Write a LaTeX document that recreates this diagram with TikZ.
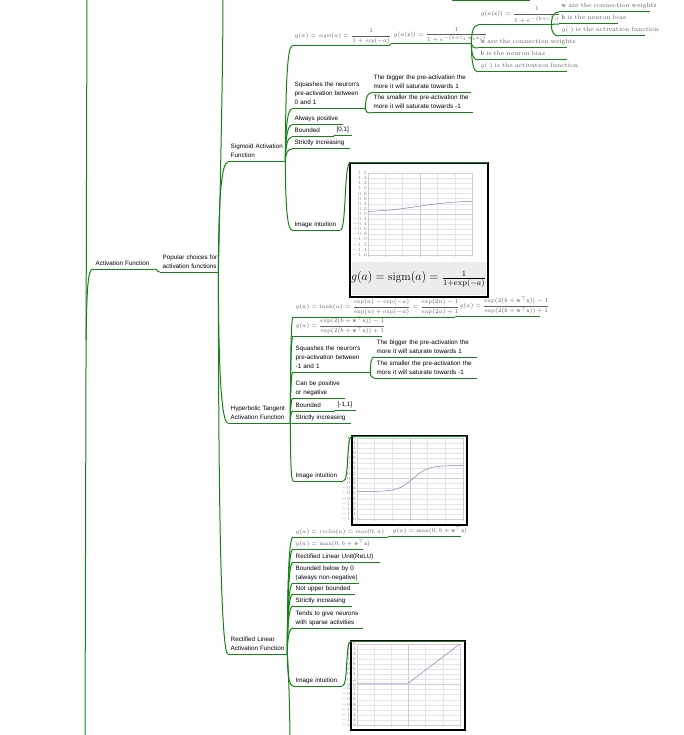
\documentclass[tikz,border=0pt]{standalone}
\usepackage{amsmath}
\usepackage{fontspec}
\newfontfamily\mapsans{Liberation Sans}
\usetikzlibrary{calc}

\definecolor{branch}{RGB}{22,130,22}
\definecolor{formula}{RGB}{95,95,95}
\definecolor{gridline}{RGB}{228,228,236}
\definecolor{axisline}{RGB}{205,205,215}
\definecolor{plotline}{RGB}{135,125,175}
\definecolor{band}{RGB}{236,236,236}

% one unbreakable line of a topic, with a fixed minimum depth
\newcommand\one[1]{\mbox{\rule[-1.6pt]{0pt}{1pt}#1}}

\tikzset{
  uline/.style={draw=branch, line width=1pt},
  link/.style={draw=branch, line width=1pt},
  topic/.style={anchor=south west, inner xsep=2.5pt, inner ysep=2.2pt, align=left,
    font=\mapsans\fontsize{6.3}{9}\selectfont,
    append after command={(\tikzlastnode.south west) edge[uline] (\tikzlastnode.south east)}},
  mathtopic/.style={topic, font=\fontsize{5.6}{6.5}\selectfont, text=formula, inner ysep=1.5pt},
  note/.style={topic, font=\fontsize{6.3}{8}\selectfont, text=formula},
  picbox/.style={draw=black, line width=1.1pt, anchor=north west, inner sep=0pt, fill=white},
  ticklab/.style={font=\fontsize{2.2}{2.5}\selectfont, text=black!45, inner sep=0.3pt},
}

% curved connector from a parent's junction to a child's underline
\newcommand\mmlink[2]{\draw[link] (#1) .. controls ($(#1)!0.67!(#1|-#2)$) and ($(#2)!0.67!(#1|-#2)$) .. (#2);}
% short S-shaped connector between neighbouring underlines
\newcommand\slink[3][4]{\draw[link] (#2) .. controls +(#1,0) and +(-#1,0) .. (#3);}

% grid of a small function plot: x0, y0, x1, y1
\newcommand\plotgrid[4]{%
  \foreach \i in {0,...,16}
    \draw[gridline, line width=0.35pt] (#1,{#2+(#4-#2)*\i/16}) -- (#3,{#2+(#4-#2)*\i/16});
  \foreach \i in {0,...,6}
    \draw[gridline, line width=0.35pt] ({#1+(#3-#1)*\i/6},#2) -- ({#1+(#3-#1)*\i/6},#4);
  \draw[axisline, line width=0.4pt] (#1,{(#2+#4)/2}) -- (#3,{(#2+#4)/2});
  \draw[axisline, line width=0.4pt] ({(#1+#3)/2},#2) -- ({(#1+#3)/2},#4);
  \draw[axisline, line width=0.4pt] (#1,#2) rectangle (#3,#4);
  \foreach \i in {0,...,16}{
    \pgfmathsetmacro\v{1.6-0.2*\i}
    \node[ticklab, anchor=east] at (#1-0.5,{#2+(#4-#2)*\i/16}) {\pgfmathprintnumber[fixed,precision=1,fixed zerofill]{\v}};}
  \foreach \i in {0,...,6}{
    \pgfmathtruncatemacro\v{-6+2*\i}
    \node[ticklab, anchor=north] at ({#1+(#3-#1)*\i/6},#4+0.8) {\v};}
}

\begin{document}
\begin{tikzpicture}[x=1pt, y=-1pt]
\useasboundingbox (0,0) rectangle (684,735);
\clip (0,0) rectangle (684,735);

% ---------- main topic ----------
\coordinate (roottop) at (87,-10);
\coordinate (rootbot) at (85,745);
\draw[link] (roottop) -- (rootbot);
\node[topic, text width=56] (af) at (93,269) {\one{Activation Function}};
\coordinate (rootj) at (86,340);
\draw[link] (rootj) .. controls (87,290) and (87.5,269) .. (af.south west);

\node[topic, text width=53] (pc) at (160,272) {\one{Popular choices for}\\\one{activation functions}};
\slink{af.south east}{pc.south west}

\node[topic, text width=52] (sig) at (228,162) {\one{Sigmoid Activation}\\\one{Function}};
\node[topic, text width=57] (tnh) at (228,423) {\one{Hyperbolic Tangent}\\\one{Activation Function}};
\node[topic, text width=54] (rel) at (228,654) {\one{Rectified Linear}\\\one{Activation Function}};
\mmlink{pc.south east}{sig.south west}
\mmlink{pc.south east}{tnh.south west}
\mmlink{pc.south east}{rel.south west}
\coordinate (popup) at (223,-8);
\draw[link] (pc.south east) .. controls (221,150) and (223,60) .. (popup);

% ---------- sigmoid ----------
\node[mathtopic, text width=91] (s1) at (292,46)
  {\one{$g(a)=\mathit{sigm}(a)=\dfrac{1}{1+\mathit{exp}(-a)}$}};
\node[mathtopic, text width=75] (s1a) at (391,44)
  {\one{$g(a(\mathbf{x}))=\dfrac{1}{1+e^{\scriptscriptstyle -(b+\sum\nolimits_i w_i x_i)}}$}};
\slink[2]{s1.south east}{s1a.south west}
\node[mathtopic, text width=68] (s1b) at (478,25)
  {\one{$g(a(\mathbf{x}))=\dfrac{1}{1+e^{\scriptscriptstyle -(b+\mathbf{w}^{\top}\mathbf{x})}}$}};
\node[note, text width=86] (s1b1) at (559,12) {\one{$\mathbf{w}$ are the connection weights}};
\node[note, text width=54] (s1b2) at (559,24) {\one{$\mathbf{b}$ is the neuron bias}};
\node[note, text width=81] (s1b3) at (559,36) {\one{$g(\cdot)$ is the activation function}};
\node[note, text width=84] (s1c) at (478,48) {\one{$\mathbf{w}$ are the connection weights}};
\node[note, text width=84] (s1d) at (478,60) {\one{$\mathbf{b}$ is the neuron bias}};
\node[note, text width=84] (s1e) at (478,72) {\one{$g(\cdot)$ is the activation function}};
\foreach \c in {s1b,s1c,s1d,s1e} {\mmlink{s1a.south east}{\c.south west}}
\foreach \c in {s1b1,s1b2,s1b3} {\mmlink{s1b.south east}{\c.south west}}

\node[topic, text width=68] (s2) at (292,109) {\one{Squashes the neuron's}\\\one{pre-activation between}\\\one{0 and 1}};
\node[topic, text width=95] (s2a) at (371,93) {\one{The bigger the pre-activation the}\\\one{more it will saturate towards 1}};
\node[topic, text width=97] (s2b) at (371,113) {\one{The smaller the pre-activation the}\\\one{more it will saturate towards -1}};
\mmlink{s2.south east}{s2a.south west}
\mmlink{s2.south east}{s2b.south west}
\node[topic, text width=46] (s3) at (292,125) {\one{Always positive}};
\node[topic, text width=36] (s4) at (292,137) {\one{Bounded}};
\node[topic, text width=13] (s4a) at (334,135.5) {\one{[0,1]}};
\slink[1]{s4.south east}{s4a.south west}
\node[topic, text width=53] (s5) at (292,149) {\one{Strictly increasing}};
\node[topic, text width=43] (s6) at (292,230) {\one{Image intuition}};
\foreach \c in {s1,s2,s3,s4,s5,s6} {\mmlink{sig.south east}{\c.south west}}

\node[picbox, minimum width=137, minimum height=133] (simg) at (350,163) {};
\plotgrid{368}{173}{472}{255}
\draw[plotline, line width=0.5pt, domain=368:472, samples=60]
  plot (\x, {212.3-11.8/(1+exp(-(\x-418)/20))});
\fill[band] (351.5,262) rectangle (485.5,294.5);
\node[font=\fontsize{11.5}{12}\selectfont, inner sep=0pt] (sform) at (418.5,279)
  {$g(a)=\mathrm{sigm}(a)=\frac{1}{1+\exp(-a)}$};
\draw[picbox, fill=none] (simg.north west) rectangle (simg.south east);
\slink[6]{s6.south east}{simg.north west}
\draw[uline] (simg.north west) -- (simg.north east);

% ---------- hyperbolic tangent ----------
\node[mathtopic, text width=157] (t1) at (293,317)
  {\one{$g(a)=\tanh(a)=\dfrac{\exp(a)-\exp(-a)}{\exp(a)+\exp(-a)}=\dfrac{\exp(2a)-1}{\exp(2a)+1}$}};
\node[mathtopic, text width=78] (t1a) at (457,316)
  {\one{$g(a)=\dfrac{\exp(2(b+\mathbf{w}^{\top}\mathbf{x}))-1}{\exp(2(b+\mathbf{w}^{\top}\mathbf{x}))+1}$}};
\slink[2]{t1.south east}{t1a.south west}
\node[mathtopic, text width=84] (t2) at (293,336)
  {\one{$g(a)=\dfrac{\exp(2(b+\mathbf{w}^{\top}\mathbf{x}))-1}{\exp(2(b+\mathbf{w}^{\top}\mathbf{x}))+1}$}};
\node[topic, text width=72] (t3) at (293,372) {\one{Squashes the neuron's}\\\one{pre-activation between}\\\one{-1 and 1}};
\node[topic, text width=98] (t3a) at (374,357) {\one{The bigger the pre-activation the}\\\one{more it will saturate towards 1}};
\node[topic, text width=98] (t3b) at (374,378) {\one{The smaller the pre-activation the}\\\one{more it will saturate towards -1}};
\mmlink{t3.south east}{t3a.south west}
\mmlink{t3.south east}{t3b.south west}
\node[topic, text width=47] (t4) at (293,398) {\one{Can be positive}\\\one{or negative}};
\node[topic, text width=37] (t5) at (293,411) {\one{Bounded}};
\node[topic, text width=16] (t5a) at (335,410) {\one{[-1,1]}};
\slink[1]{t5.south east}{t5a.south west}
\node[topic, text width=53] (t6) at (293,423) {\one{Strictly increasing}};
\node[topic, text width=45] (t7) at (293,481) {\one{Image intuition}};
\foreach \c in {t1,t2,t3,t4,t5,t6,t7} {\mmlink{tnh.south east}{\c.south west}}

\node[picbox, minimum width=114, minimum height=88] (timg) at (352,436) {};
\plotgrid{357}{438}{463}{519}
\draw[plotline, line width=0.5pt, domain=357:463, samples=60]
  plot (\x, {478.5-13*tanh((\x-413)/15)});
\draw[picbox, fill=none] (timg.north west) rectangle (timg.south east);
\slink[6]{t7.south east}{timg.north west}
\draw[uline] (timg.north west) -- (timg.north east);

% ---------- rectified linear ----------
\node[mathtopic, text width=90] (r1) at (293,537) {\one{$g(a)=\mathit{reclin}(a)=\mathit{max}(0,a)$}};
\node[mathtopic, text width=66] (r1a) at (390,536) {\one{$g(a)=\max(0,b+\mathbf{w}^{\top}\mathbf{x})$}};
\slink[1]{r1.south east}{r1a.south west}
\node[mathtopic, text width=65] (r2) at (293,549) {\one{$g(a)=\max(0,b+\mathbf{w}^{\top}\mathbf{x})$}};
\node[topic, text width=82] (r3) at (293,562) {\one{Rectified Linear Unit(ReLU)}};
\node[topic, text width=61] (r4) at (293,583) {\one{Bounded below by 0}\\\one{(always non-negative)}};
\node[topic, text width=57] (r5) at (293,594) {\one{Not upper bounded}};
\node[topic, text width=54] (r6) at (293,606) {\one{Strictly increasing}};
\node[topic, text width=65] (r7) at (293,628) {\one{Tends to give neurons}\\\one{with sparse activities}};
\node[topic, text width=44] (r8) at (293,686) {\one{Image intuition}};
\foreach \c in {r1,r2,r3,r4,r5,r6,r7,r8} {\mmlink{rel.south east}{\c.south west}}
\coordinate (reldown) at (290,750);
\draw[link] (rel.south east) .. controls (289,680) and (290,720) .. (reldown);

\node[picbox, minimum width=113, minimum height=88] (rimg) at (351,641) {};
\plotgrid{357}{644}{460}{725}
\draw[plotline, line width=0.5pt] (357,683) -- (408.5,683) -- (460,644);
\draw[picbox, fill=none] (rimg.north west) rectangle (rimg.south east);
\slink[6]{r8.south east}{rimg.north west}
\draw[uline] (rimg.north west) -- (rimg.north east);

% underline of a node just above
\coordinate (topa) at (452,0.4);
\coordinate (topb) at (530,0.4);
\draw[uline] (topa) -- (topb);
\end{tikzpicture}
\end{document}
